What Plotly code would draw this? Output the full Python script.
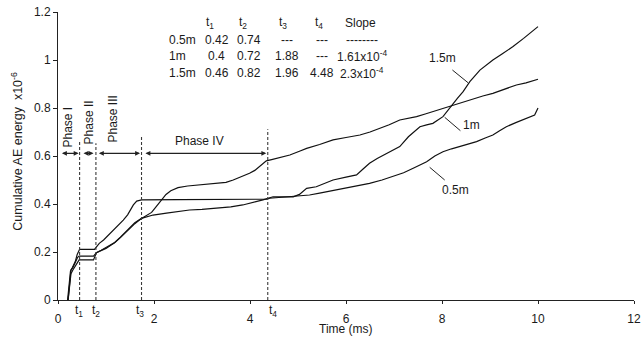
import plotly.graph_objects as go

# ---------------- data ----------------
t_05 = [0.20,0.23,0.26,0.30,0.36,0.40,0.45,0.76,0.86,0.95,1.05,1.15,1.25,1.36,1.45,1.57,1.64,1.74,2.5,3.5,4.34,4.41,4.7,4.97,5.24,5.45,5.7,5.94,6.2,6.49,6.75,6.98,7.2,7.40,7.68,7.85,8.02,8.2,8.37,8.55,8.72,8.9,9.06,9.2,9.34,9.55,9.76,9.93,10.0]
e_05 = [0,0.06,0.12,0.135,0.16,0.19,0.211,0.211,0.236,0.25,0.27,0.29,0.31,0.333,0.355,0.396,0.412,0.417,0.418,0.419,0.42,0.424,0.428,0.433,0.4375,0.445,0.455,0.465,0.475,0.486,0.5,0.514,0.53,0.549,0.576,0.6,0.618,0.63,0.639,0.648,0.66,0.675,0.6875,0.705,0.722,0.74,0.757,0.771,0.80]

t_1 = [0.21,0.24,0.27,0.31,0.36,0.41,0.44,0.74,0.80,0.9,1.0,1.1,1.18,1.3,1.42,1.52,1.60,1.74,1.85,1.95,2.05,2.15,2.25,2.35,2.5,2.7,2.95,3.3,3.5,3.65,3.85,3.99,4.1,4.20,4.34,4.45,4.55,4.83,5.03,5.18,5.45,5.73,6.0,6.29,6.5,6.70,6.9,7.12,7.3,7.47,7.65,7.81,8.0,8.20,8.4,8.65,8.85,9.06,9.3,9.55,9.75,10.0]
e_1 = [0,0.07,0.125,0.135,0.155,0.178,0.183,0.183,0.197,0.205,0.215,0.228,0.238,0.26,0.283,0.302,0.318,0.34,0.352,0.365,0.39,0.415,0.44,0.455,0.468,0.475,0.479,0.486,0.49,0.50,0.515,0.528,0.54,0.556,0.58,0.585,0.59,0.604,0.62,0.632,0.648,0.667,0.677,0.6875,0.70,0.715,0.73,0.75,0.757,0.764,0.775,0.785,0.798,0.8125,0.825,0.84,0.85,0.861,0.878,0.896,0.905,0.92]

t_15 = [0.21,0.24,0.27,0.31,0.36,0.41,0.44,0.74,0.80,0.9,1.0,1.1,1.18,1.3,1.42,1.52,1.60,1.74,1.85,1.98,2.26,2.60,2.74,3.0,3.30,3.6,3.85,4.05,4.27,4.48,4.70,4.90,5.03,5.18,5.38,5.55,5.73,6.0,6.22,6.35,6.49,6.65,6.84,7.12,7.3,7.54,7.68,7.81,8.02,8.20,8.32,8.44,8.58,8.79,9.06,9.25,9.48,9.7,9.85,10.0]
e_15 = [0,0.05,0.11,0.125,0.14,0.16,0.167,0.167,0.197,0.207,0.22,0.232,0.24,0.262,0.287,0.305,0.322,0.34,0.346,0.354,0.362,0.372,0.375,0.378,0.382,0.388,0.396,0.405,0.417,0.43,0.43,0.43,0.44,0.465,0.472,0.485,0.5,0.512,0.521,0.545,0.57,0.59,0.611,0.639,0.68,0.722,0.73,0.736,0.764,0.8125,0.84,0.868,0.91,0.958,1.0,1.025,1.056,1.09,1.115,1.139]

# phase boundary times as drawn, and top of their dashed markers
t_marks = [0.45, 0.79, 1.74, 4.37]
t_mark_tops = [0.667, 0.653, 0.68, 0.711]
t_mark_labels = ["t<sub>1</sub>", "t<sub>2</sub>", "t<sub>3</sub>", "t<sub>4</sub>"]
phase_names = ["Phase I", "Phase II", "Phase III", "Phase IV"]

# table
tbl_header = ["t<sub>1</sub>", "t<sub>2</sub>", "t<sub>3</sub>", "t<sub>4</sub>", "Slope"]
tbl_rows = ["0.5m", "1m", "1.5m"]
tbl_vals = [
    ["0.42", "0.74", "---", "---", "--------"],
    ["0.4", "0.72", "1.88", "---", "1.61x10<sup>-4</sup>"],
    ["0.46", "0.82", "1.96", "4.48", "2.3x10<sup>-4</sup>"],
]
series_names = ["0.5m", "1m", "1.5m"]
x_title = "Time (ms)"
y_title = "Cumulative AE energy&nbsp; x10<sup>-6</sup>"

# ---------------- layout helpers ----------------
FONT = "Arial, 'Liberation Sans', sans-serif"
X0, XS = 58.3, 48.0      # pixel of t=0, px per ms
Y0, YS = 300.0, 240.0    # pixel of e=0, px per unit
PW, PH = 576.0, 288.0    # plot area size in px


def dx(px):
    return (px - X0) / XS


def dy(py):
    return (Y0 - py) / YS


def ppx(px):
    return (px - X0) / PW


def ppy(py):
    return (Y0 - py) / PH


def tf(size=12):
    return dict(family=FONT, size=size, color="#1a1a1a")


def label(px, py, text, anchor="center", angle=0, size=12):
    return dict(x=ppx(px), y=ppy(py), xref="paper", yref="paper", text=text,
                xanchor=anchor, yanchor="middle", textangle=angle,
                showarrow=False, font=tf(size))


fig = go.Figure()
for tt, ee, nm in [(t_05, e_05, series_names[0]), (t_1, e_1, series_names[1]), (t_15, e_15, series_names[2])]:
    fig.add_trace(go.Scatter(x=tt, y=ee, mode="lines", name=nm,
                             line=dict(color="#111111", width=1.2), showlegend=False,
                             hoverinfo="skip"))

shapes = []
annotations = []

# dashed markers and labels under the axis
t_label_px = [79, 96.5, 140.5, 273]
for t, top, lab, lpx in zip(t_marks, t_mark_tops, t_mark_labels, t_label_px):
    shapes.append(dict(type="line", xref="x", yref="y", x0=t, x1=t, y0=0, y1=top,
                       line=dict(color="#3a3a3a", width=1.1, dash="3px,2px")))
    annotations.append(label(lpx, 311, lab))

# phase arrows
arrow_y = 0.611
bounds = [0.0] + t_marks
gaps = [(0.05, -0.02), (0.05, -0.05), (0.03, -0.03), (0.05, -0.03)]
for i in range(4):
    a = bounds[i] + gaps[i][0]
    b = bounds[i + 1] + gaps[i][1]
    annotations.append(dict(x=b, y=arrow_y, ax=a, ay=arrow_y, xref="x", yref="y",
                            axref="x", ayref="y", text="", showarrow=True,
                            arrowhead=2, arrowside="end+start", arrowsize=0.9,
                            arrowwidth=1.1, arrowcolor="#222", standoff=0, startstandoff=0))

# phase text
phase_pos = [(68.3, 127.5, -90), (89.2, 122.5, -90), (112.8, 119, -90), (199.5, 141.3, 0)]
for nm, (px, py, ang) in zip(phase_names, phase_pos):
    annotations.append(label(px, py, nm, angle=ang))

# table
head_px = [210.5, 243.5, 283, 319.5, 360.5]
col_px = [217, 249.5, 287.5, 322, 362]
row_py = [40, 56, 72.7]
for h, px in zip(tbl_header, head_px):
    annotations.append(label(px, 22.7, h))
for r, py, vals in zip(tbl_rows, row_py, tbl_vals):
    annotations.append(label(167.5, py, r, anchor="left"))
    for v, px in zip(vals, col_px):
        annotations.append(label(px, py, v))

# series labels with leader lines
lab_pos = [(455.5, 189.5), (471.7, 125), (443, 58)]
leaders = [((430, 167.3), (445, 180)), ((445, 117.3), (460.7, 130.7)), ((452.7, 70), (468.3, 82.7))]
for nm, (px, py), ((ax_, ay_), (bx_, by_)) in zip(series_names, lab_pos, leaders):
    annotations.append(label(px, py, nm))
    shapes.append(dict(type="line", xref="x", yref="y", x0=dx(ax_), y0=dy(ay_), x1=dx(bx_), y1=dy(by_),
                       line=dict(color="#222", width=1)))

# axis titles as positioned text
annotations.append(label(346.5, 329, x_title))
annotations.append(label(17, 151, y_title, angle=-90, size=12.5))

fig.update_layout(
    width=641, height=341,
    margin=dict(l=58, r=7, t=12, b=41),
    paper_bgcolor="white", plot_bgcolor="white",
    font=tf(),
    shapes=shapes, annotations=annotations,
    xaxis=dict(range=[0, 12], tickmode="linear", tick0=0, dtick=2, showgrid=False, zeroline=False,
               showline=True, linecolor="#222", linewidth=1, ticks="outside", ticklen=3,
               tickcolor="#222", tickfont=tf(), ticklabelstandoff=5, automargin=False),
    yaxis=dict(range=[0, 1.2], tickmode="linear", tick0=0, dtick=0.2, showgrid=False, zeroline=False,
               showline=True, linecolor="#222", linewidth=1, ticks="outside", ticklen=4,
               tickcolor="#222", tickfont=tf(), automargin=False),
)

fig.write_html("out.html")
